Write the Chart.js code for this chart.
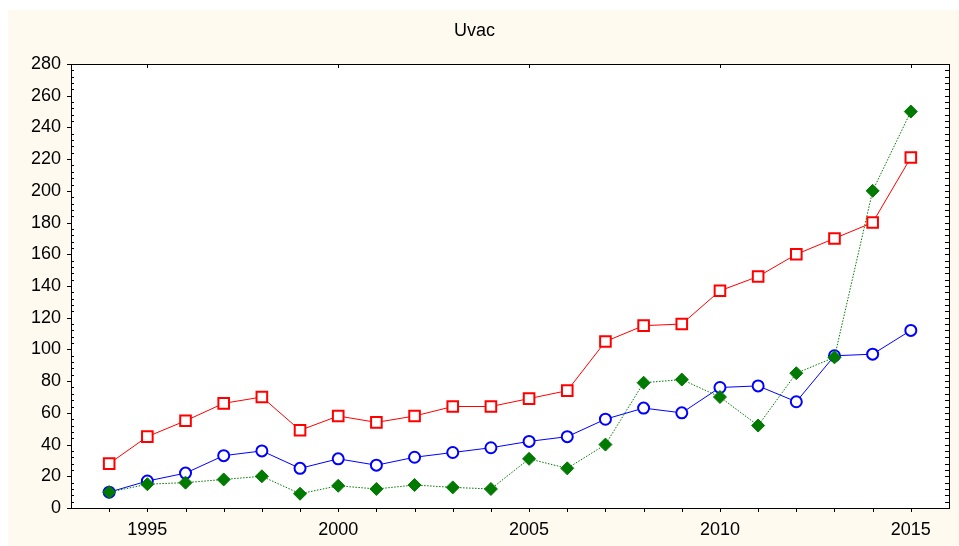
<!DOCTYPE html>
<html>
<head>
<meta charset="utf-8">
<script src="https://cdn.jsdelivr.net/npm/chart.js@4/dist/chart.umd.min.js"></script>
<style>
  html, body { margin: 0; padding: 0; background: #fff; }
  #wrap { width: 959px; height: 546px; position: relative; }
</style>
</head>
<body>
<div id="wrap"><canvas id="c" width="959" height="546"></canvas></div>
<script>
// ── DATA ──────────────────────────────────────────────────────────────────
const years  = [1994, 1995, 1996, 1997, 1998, 1999, 2000, 2001, 2002, 2003, 2004,
                2005, 2006, 2007, 2008, 2009, 2010, 2011, 2012, 2013, 2014, 2015];
const red    = [28, 45, 55, 66, 70, 49, 58, 54, 58, 64, 64,
                69, 74, 105, 115, 116, 137, 146, 160, 170, 180, 221];
const blue   = [10, 17, 22, 33, 36, 25, 31, 27, 32, 35, 38,
                42, 45, 56, 63, 60, 76, 77, 67, 96, 97, 112];
const green  = [10, 15, 16, 18, 20, 9, 14, 12, 14.5, 13, 12,
                31, 25, 40, 79, 81, 70, 52, 85, 95, 200, 250];
const xLabels = [1995, 2000, 2005, 2010, 2015];
const yTicks  = [0, 20, 40, 60, 80, 100, 120, 140, 160, 180, 200, 220, 240, 260, 280];

const pts = arr => arr.map((v, i) => ({ x: years[i], y: v }));
const FONT = { family: 'Arial, "Liberation Sans", sans-serif', size: 18 };

// ── PLUGINS ───────────────────────────────────────────────────────────────
const backdrop = {
  id: 'backdrop',
  beforeDraw(chart) {
    const ctx = chart.ctx;
    ctx.save();
    ctx.fillStyle = '#fffaf0';
    ctx.fillRect(8, 10, chart.width - 8, chart.height - 10);
    const a = chart.chartArea;
    ctx.fillStyle = '#fff';
    ctx.fillRect(a.left, a.top, a.right - a.left, a.bottom - a.top);
    ctx.restore();
  },
  afterDraw(chart) {
    // frame plus minor ticks on the left and right, year ticks on top
    const ctx = chart.ctx, a = chart.chartArea;
    const ys = chart.scales.y, xs = chart.scales.x;
    ctx.save();
    ctx.strokeStyle = '#000';
    ctx.lineWidth = 1;
    ctx.strokeRect(Math.round(a.left) + .5, Math.round(a.top) + .5,
                   Math.round(a.right - a.left), Math.round(a.bottom - a.top));
    ctx.beginPath();
    for (let v = 0; v <= 280; v += 4) {
      const y = Math.round(ys.getPixelForValue(v)) + .5;
      const major = v % 20 === 0;
      ctx.moveTo(a.left, y); ctx.lineTo(a.left + (major ? 0 : 3), y);
      ctx.moveTo(a.right, y); ctx.lineTo(a.right - 4, y);
      if (major) { ctx.moveTo(a.left, y); ctx.lineTo(a.left - 4, y); }
    }
    years.forEach(yr => {
      const x = Math.round(xs.getPixelForValue(yr)) + .5;
      ctx.moveTo(x, a.bottom); ctx.lineTo(x, a.bottom + 4);
    });
    xLabels.forEach(yr => {
      const x = Math.round(xs.getPixelForValue(yr)) + .5;
      ctx.moveTo(x, a.top); ctx.lineTo(x, a.top + 4);
    });
    ctx.stroke();
    ctx.restore();
  }
};

// ── CHART ─────────────────────────────────────────────────────────────────
new Chart(document.getElementById('c'), {
  type: 'line',
  data: {
    datasets: [
      {
        data: pts(green),
        borderColor: '#007a00',
        borderWidth: 1,
        borderDash: [1.5, 1.5],
        pointStyle: 'rectRot',
        pointRadius: 6.5,
        pointBackgroundColor: '#007a00',
        pointBorderColor: '#007a00',
        pointBorderWidth: 1,
        tension: 0,
        order: 0
      },
      {
        data: pts(blue),
        borderColor: '#0000ff',
        borderWidth: 1,
        pointStyle: 'circle',
        pointRadius: 5.5,
        pointBackgroundColor: '#fff',
        pointBorderColor: '#0000ff',
        pointBorderWidth: 2,
        tension: 0,
        order: 1
      },
      {
        data: pts(red),
        borderColor: '#ff0000',
        borderWidth: 1,
        pointStyle: 'rect',
        pointRadius: 7.5,
        pointBackgroundColor: '#fff',
        pointBorderColor: '#ff0000',
        pointBorderWidth: 2,
        tension: 0,
        order: 2
      }
    ]
  },
  options: {
    responsive: false,
    animation: false,
    layout: { padding: { left: 0, right: 10, top: 0, bottom: 0 } },
    plugins: {
      legend:  { display: false },
      tooltip: { enabled: false },
      title: {
        display: true,
        text: 'Uvac',
        color: '#000',
        font: { family: FONT.family, size: 18, weight: 'normal', lineHeight: 1.2 },
        padding: { top: 20, bottom: 22.4 }
      }
    },
    scales: {
      x: {
        type: 'linear',
        min: 1993,
        max: 2016,
        afterFit: s => { s.height = 38; },
        afterBuildTicks: s => { s.ticks = xLabels.map(v => ({ value: v })); },
        grid:   { display: false },
        border: { display: false },
        ticks:  { color: '#000', font: FONT, padding: 3, maxRotation: 0,
                  callback: v => String(v) }
      },
      y: {
        min: 0,
        max: 280,
        afterFit: s => { s.width = 71; },
        afterBuildTicks: s => { s.ticks = yTicks.map(v => ({ value: v })); },
        grid:   { display: false },
        border: { display: false },
        ticks:  { color: '#000', font: FONT, padding: 2 }
      }
    }
  },
  plugins: [backdrop]
});
</script>
</body>
</html>
